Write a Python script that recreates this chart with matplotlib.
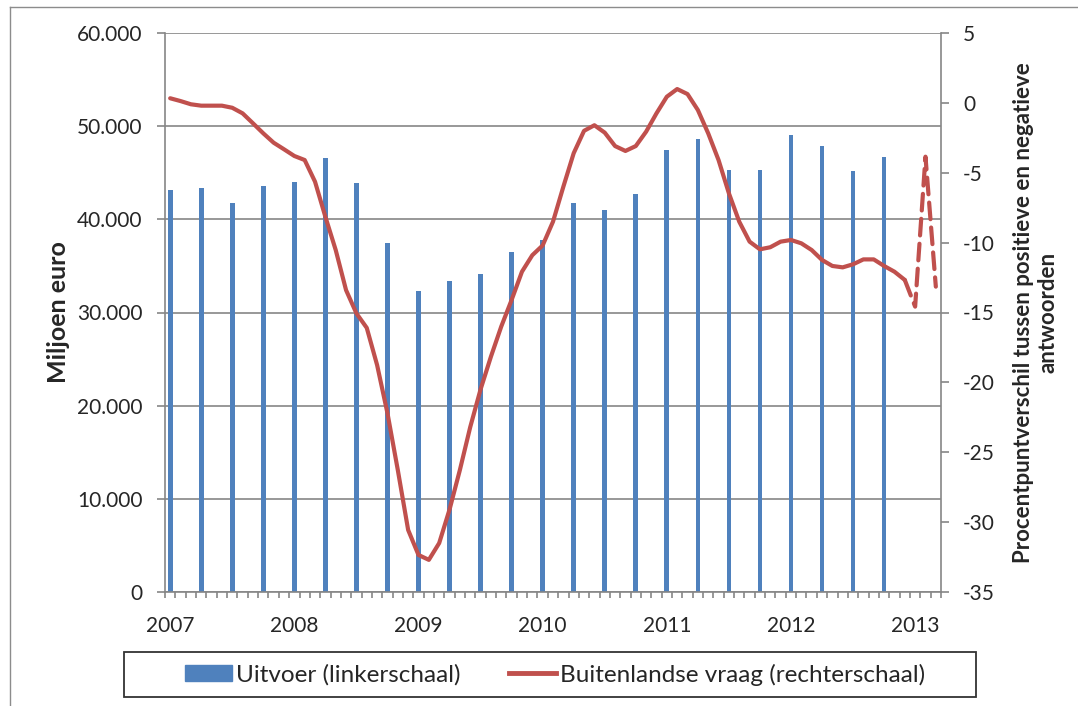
import matplotlib
matplotlib.use("Agg")
import matplotlib.pyplot as plt
from matplotlib.patches import Patch, Rectangle
from matplotlib.lines import Line2D
from matplotlib.ticker import FuncFormatter

# maanden jan 2007 t/m mrt 2013 (75 categorieen)
n_months = 75
years = ["2007", "2008", "2009", "2010", "2011", "2012", "2013"]

# uitvoer per kwartaal (miljoen euro), eerste maand van elk kwartaal
export_values = [43150, 43400, 41720, 43580, 44000, 46620, 43900, 37500,
                 32300, 33380, 34130, 36460, 37780, 41790, 40960, 42720,
                 47440, 48620, 45260, 45330, 49050, 47840, 45150, 46720]

# buitenlandse vraag per maand (procentpunt)
demand_values = [0.33, 0.13, -0.10, -0.2, -0.2, -0.2, -0.35, -0.75, -1.46, -2.18,
                 -2.85, -3.32, -3.8, -4.09, -5.64, -8.15, -10.53, -13.4, -15.06, -16.1,
                 -18.76, -22.2, -26.27, -30.56, -32.35, -32.7, -31.5, -29.1, -26.27, -23.2,
                 -20.5, -18.16, -16.0, -14.1, -12.08, -10.9, -10.2, -8.5, -6.0, -3.6,
                 -2.0, -1.6, -2.13, -3.09, -3.44, -3.09, -2.06, -0.75, 0.44, 0.99,
                 0.63, -0.51, -2.18, -4.09, -6.47, -8.5, -9.93, -10.48, -10.33, -9.93,
                 -9.81, -10.05, -10.53, -11.24, -11.67, -11.77, -11.55, -11.2, -11.2, -11.67,
                 -12.08, -12.67, -14.58, -3.85, -13.15]
last_solid = 71  # dec 2012, daarna voorlopig (gestippeld)

blue = "#4F81BD"
red = "#C0504D"
grey = "#868686"
txt = "#262626"

plt.rcParams["font.family"] = ["Lato", "DejaVu Sans"]
plt.rcParams["axes.unicode_minus"] = False

fig = plt.figure(figsize=(10.78, 7.06), dpi=100)
W, H = 1078, 706
ax = fig.add_axes([165 / W, 1 - 592 / H, (941 - 165) / W, (592 - 33) / H])
ax2 = ax.twinx()

# staven
bar_x = list(range(0, 3 * len(export_values), 3))
ax.bar(bar_x, export_values, width=0.45, color=blue, zorder=2)
ax.set_ylim(0, 60000)
ax.set_yticks(range(0, 60001, 10000))
ax.yaxis.set_major_formatter(FuncFormatter(lambda v, p: f"{int(v):,}".replace(",", ".")))
ax.grid(axis="y", color=grey, lw=1.2)
ax.set_axisbelow(True)

# lijn
x_all = list(range(n_months))
ax2.plot(x_all[:last_solid + 1], demand_values[:last_solid + 1], color=red, lw=3,
         solid_joinstyle="round", solid_capstyle="round")
ax2.plot(x_all[last_solid:], demand_values[last_solid:], color=red, lw=3,
         dashes=(4, 2), dash_capstyle="round")
ax2.set_ylim(-35, 5)
ax2.set_yticks(range(-35, 6, 5))

ax.set_xlim(-0.5, n_months - 0.5)
ax.set_xticks([i - 0.5 for i in range(n_months + 1)])
ax.set_xticklabels([])
ax.set_xticks(list(range(0, n_months, 12)), minor=True)
ax.set_xticklabels(years, minor=True)
ax.tick_params(axis="x", which="major", direction="out", length=4.5, width=1.2, color=grey)
ax.tick_params(axis="x", which="minor", length=0, pad=17.5, labelsize=15, labelcolor=txt)
ax.tick_params(axis="y", direction="out", length=6, width=1.2, color=grey, pad=10,
               labelsize=15, labelcolor=txt)
ax2.tick_params(axis="y", direction="out", length=6, width=1.2, color=grey, pad=10,
                labelsize=15, labelcolor=txt)

for s in ["top", "right"]:
    ax.spines[s].set_visible(False)
for s in ["top", "left", "bottom"]:
    ax2.spines[s].set_visible(False)
for sp in [ax.spines["left"], ax.spines["bottom"], ax2.spines["right"]]:
    sp.set_color(grey)
    sp.set_linewidth(1.2)

ax.set_ylabel("Miljoen euro", fontsize=18, fontweight="bold", color=txt, labelpad=5)
ax2.set_ylabel("Procentpuntverschil tussen positieve en negatieve\nantwoorden",
               fontsize=16, fontweight="bold", color=txt, labelpad=13, linespacing=1.2)

# legenda
handles = [Patch(color=blue), Line2D([], [], color=red, lw=3.5)]
labels = ["Uitvoer (linkerschaal)", "Buitenlandse vraag (rechterschaal)"]
fig.legend(handles, labels, loc="center", bbox_to_anchor=(555 / W, 1 - 674.5 / H),
           ncol=2, frameon=False, prop={"size": 17.5},
           handlelength=1.95, handletextpad=0.16, columnspacing=2.0, handleheight=0.6,
           labelcolor=txt)
fig.add_artist(Rectangle((124 / W, 1 - 697 / H), (976 - 124) / W, 45 / H,
                         transform=fig.transFigure, fill=False, ec="#333333", lw=1.3))

# kader van de grafiek
fig.add_artist(Line2D([10 / W, 1], [1 - 7 / H, 1 - 7 / H], transform=fig.transFigure,
                      color="#8c8c8c", lw=1))
fig.add_artist(Line2D([10 / W, 10 / W], [0, 1 - 7 / H], transform=fig.transFigure,
                      color="#8c8c8c", lw=1))

fig.savefig("out.png", dpi=100)
